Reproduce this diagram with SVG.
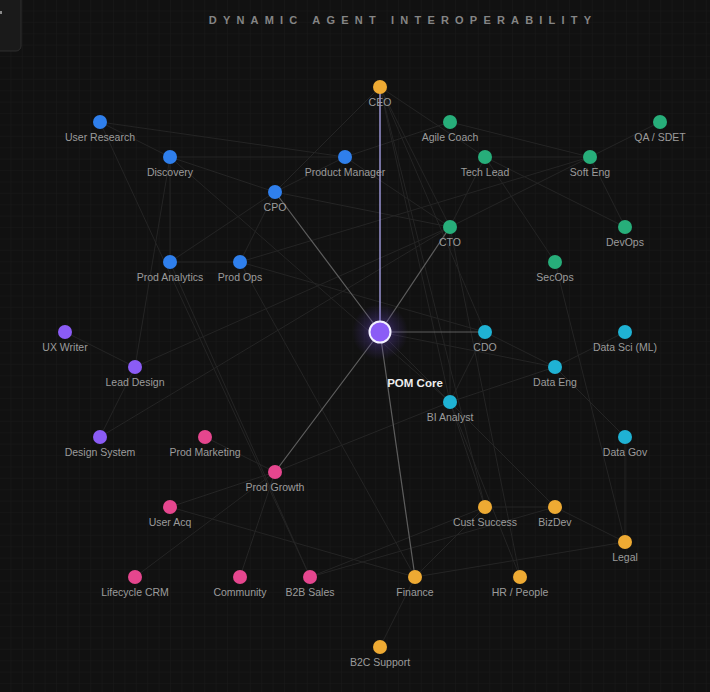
<svg xmlns="http://www.w3.org/2000/svg" width="710" height="692" viewBox="0 0 710 692">
<defs>
<pattern id="grid" width="11.4" height="11.4" patternUnits="userSpaceOnUse">
<path d="M11.4 0V11.4H0" fill="none" stroke="#1a1a1a" stroke-width="1"/>
</pattern>
<radialGradient id="glow" cx="0.5" cy="0.5" r="0.5">
<stop offset="0" stop-color="#8b5cf6" stop-opacity="0.5"/>
<stop offset="0.55" stop-color="#6d4ad6" stop-opacity="0.2"/>
<stop offset="1" stop-color="#6d4ad6" stop-opacity="0"/>
</radialGradient>
<style>
.lbl{font-family:"Liberation Sans","Inter",Arial,sans-serif;font-size:10.5px;fill:#9c9c9c;text-anchor:middle}
.faint{stroke:#242424;stroke-width:1;fill:none}
.spoke{stroke:#5e5e5e;stroke-width:1.2;fill:none}
.ceo{stroke:#aea8f0;stroke-width:1.3;fill:none}
.blue{fill:#2f7fec}
.green{fill:#27ae7a}
.purple{fill:#8b5cf6}
.cyan{fill:#1fb2d4}
.pink{fill:#e5468e}
.orange{fill:#eeaa33}
.title{font-family:"Liberation Sans","Inter",Arial,sans-serif;font-size:11px;font-weight:bold;fill:#858585;letter-spacing:6.2px;text-anchor:middle}
</style>
</defs>
<rect width="710" height="692" fill="#111111"/>
<rect width="710" height="692" fill="url(#grid)"/>
<rect x="-20" y="-20" width="41" height="71" rx="5" fill="#1a1a1a" stroke="#2e2e2e" stroke-width="1"/>
<rect x="0" y="11" width="2" height="3" fill="#8a8a8a"/>
<text class="title" x="403" y="24">DYNAMIC AGENT INTEROPERABILITY</text>

<g id="connectors">
<g id="faint-links">
<line class="faint" x1="100" y1="122" x2="345" y2="157"/>
<line class="faint" x1="100" y1="122" x2="170" y2="157"/>
<line class="faint" x1="170" y1="157" x2="345" y2="157"/>
<line class="faint" x1="170" y1="157" x2="275" y2="192"/>
<line class="faint" x1="170" y1="157" x2="170" y2="262"/>
<line class="faint" x1="170" y1="157" x2="135" y2="367"/>
<line class="faint" x1="170" y1="157" x2="450" y2="402"/>
<line class="faint" x1="275" y1="192" x2="345" y2="157"/>
<line class="faint" x1="275" y1="192" x2="240" y2="262"/>
<line class="faint" x1="275" y1="192" x2="170" y2="262"/>
<line class="faint" x1="275" y1="192" x2="450" y2="227"/>
<line class="faint" x1="170" y1="262" x2="240" y2="262"/>
<line class="faint" x1="170" y1="262" x2="310" y2="577"/>
<line class="faint" x1="240" y1="262" x2="485" y2="332"/>
<line class="faint" x1="345" y1="157" x2="450" y2="122"/>
<line class="faint" x1="345" y1="157" x2="450" y2="227"/>
<line class="faint" x1="380" y1="87" x2="275" y2="192"/>
<line class="faint" x1="380" y1="87" x2="450" y2="227"/>
<line class="faint" x1="380" y1="87" x2="485" y2="332"/>
<line class="faint" x1="380" y1="87" x2="450" y2="402"/>
<line class="faint" x1="380" y1="87" x2="485" y2="507"/>
<line class="faint" x1="380" y1="87" x2="485" y2="157"/>
<line class="faint" x1="450" y1="122" x2="590" y2="157"/>
<line class="faint" x1="485" y1="157" x2="590" y2="157"/>
<line class="faint" x1="485" y1="157" x2="450" y2="227"/>
<line class="faint" x1="485" y1="157" x2="625" y2="227"/>
<line class="faint" x1="485" y1="157" x2="555" y2="262"/>
<line class="faint" x1="590" y1="157" x2="660" y2="122"/>
<line class="faint" x1="590" y1="157" x2="450" y2="227"/>
<line class="faint" x1="590" y1="157" x2="625" y2="227"/>
<line class="faint" x1="590" y1="157" x2="240" y2="262"/>
<line class="faint" x1="555" y1="262" x2="625" y2="542"/>
<line class="faint" x1="450" y1="227" x2="450" y2="402"/>
<line class="faint" x1="450" y1="227" x2="520" y2="577"/>
<line class="faint" x1="485" y1="332" x2="555" y2="367"/>
<line class="faint" x1="485" y1="332" x2="450" y2="402"/>
<line class="faint" x1="555" y1="367" x2="625" y2="332"/>
<line class="faint" x1="555" y1="367" x2="450" y2="402"/>
<line class="faint" x1="555" y1="367" x2="625" y2="437"/>
<line class="faint" x1="380" y1="332" x2="555" y2="367"/>
<line class="faint" x1="65" y1="332" x2="135" y2="367"/>
<line class="faint" x1="135" y1="367" x2="100" y2="437"/>
<line class="faint" x1="135" y1="367" x2="450" y2="227"/>
<line class="faint" x1="100" y1="437" x2="450" y2="227"/>
<line class="faint" x1="205" y1="437" x2="275" y2="472"/>
<line class="faint" x1="100" y1="122" x2="310" y2="577"/>
<line class="faint" x1="275" y1="472" x2="170" y2="507"/>
<line class="faint" x1="275" y1="472" x2="240" y2="577"/>
<line class="faint" x1="275" y1="472" x2="135" y2="577"/>
<line class="faint" x1="275" y1="472" x2="450" y2="402"/>
<line class="faint" x1="170" y1="507" x2="415" y2="577"/>
<line class="faint" x1="310" y1="577" x2="485" y2="507"/>
<line class="faint" x1="310" y1="577" x2="555" y2="507"/>
<line class="faint" x1="415" y1="577" x2="485" y2="507"/>
<line class="faint" x1="415" y1="577" x2="625" y2="542"/>
<line class="faint" x1="415" y1="577" x2="380" y2="647"/>
<line class="faint" x1="485" y1="507" x2="555" y2="507"/>
<line class="faint" x1="450" y1="402" x2="485" y2="507"/>
<line class="faint" x1="450" y1="402" x2="520" y2="577"/>
<line class="faint" x1="625" y1="437" x2="625" y2="542"/>
<line class="faint" x1="555" y1="507" x2="625" y2="542"/>
<line class="faint" x1="380" y1="332" x2="555" y2="507"/>
<line class="faint" x1="240" y1="262" x2="415" y2="577"/>
</g>
<g id="core-links">
<line class="ceo" x1="380" y1="321" x2="380" y2="87"/>
<line class="spoke" x1="380" y1="332" x2="275" y2="192"/>
<line class="spoke" x1="380" y1="332" x2="450" y2="227"/>
<line class="spoke" x1="380" y1="332" x2="485" y2="332"/>
<line class="spoke" x1="380" y1="332" x2="275" y2="472"/>
<line class="spoke" x1="380" y1="332" x2="415" y2="577"/>
</g>
</g>

<g id="nodes">
<g id="n-ceo"><circle class="orange" cx="380" cy="87" r="7"/><text class="lbl" x="380" y="106">CEO</text></g>
<g id="n-user-research"><circle class="blue" cx="100" cy="122" r="7"/><text class="lbl" x="100" y="141">User Research</text></g>
<g id="n-agile-coach"><circle class="green" cx="450" cy="122" r="7"/><text class="lbl" x="450" y="141">Agile Coach</text></g>
<g id="n-qa"><circle class="green" cx="660" cy="122" r="7"/><text class="lbl" x="660" y="141">QA / SDET</text></g>
<g id="n-discovery"><circle class="blue" cx="170" cy="157" r="7"/><text class="lbl" x="170" y="176">Discovery</text></g>
<g id="n-pm"><circle class="blue" cx="345" cy="157" r="7"/><text class="lbl" x="345" y="176">Product Manager</text></g>
<g id="n-tech-lead"><circle class="green" cx="485" cy="157" r="7"/><text class="lbl" x="485" y="176">Tech Lead</text></g>
<g id="n-soft-eng"><circle class="green" cx="590" cy="157" r="7"/><text class="lbl" x="590" y="176">Soft Eng</text></g>
<g id="n-cpo"><circle class="blue" cx="275" cy="192" r="7"/><text class="lbl" x="275" y="211">CPO</text></g>
<g id="n-cto"><circle class="green" cx="450" cy="227" r="7"/><text class="lbl" x="450" y="246">CTO</text></g>
<g id="n-devops"><circle class="green" cx="625" cy="227" r="7"/><text class="lbl" x="625" y="246">DevOps</text></g>
<g id="n-prod-analytics"><circle class="blue" cx="170" cy="262" r="7"/><text class="lbl" x="170" y="281">Prod Analytics</text></g>
<g id="n-prod-ops"><circle class="blue" cx="240" cy="262" r="7"/><text class="lbl" x="240" y="281">Prod Ops</text></g>
<g id="n-secops"><circle class="green" cx="555" cy="262" r="7"/><text class="lbl" x="555" y="281">SecOps</text></g>
<g id="n-ux-writer"><circle class="purple" cx="65" cy="332" r="7"/><text class="lbl" x="65" y="351">UX Writer</text></g>
<g id="n-cdo"><circle class="cyan" cx="485" cy="332" r="7"/><text class="lbl" x="485" y="351">CDO</text></g>
<g id="n-data-sci"><circle class="cyan" cx="625" cy="332" r="7"/><text class="lbl" x="625" y="351">Data Sci (ML)</text></g>
<g id="n-lead-design"><circle class="purple" cx="135" cy="367" r="7"/><text class="lbl" x="135" y="386">Lead Design</text></g>
<g id="n-data-eng"><circle class="cyan" cx="555" cy="367" r="7"/><text class="lbl" x="555" y="386">Data Eng</text></g>
<g id="n-bi-analyst"><circle class="cyan" cx="450" cy="402" r="7"/><text class="lbl" x="450" y="421">BI Analyst</text></g>
<g id="n-design-system"><circle class="purple" cx="100" cy="437" r="7"/><text class="lbl" x="100" y="456">Design System</text></g>
<g id="n-prod-marketing"><circle class="pink" cx="205" cy="437" r="7"/><text class="lbl" x="205" y="456">Prod Marketing</text></g>
<g id="n-data-gov"><circle class="cyan" cx="625" cy="437" r="7"/><text class="lbl" x="625" y="456">Data Gov</text></g>
<g id="n-prod-growth"><circle class="pink" cx="275" cy="472" r="7"/><text class="lbl" x="275" y="491">Prod Growth</text></g>
<g id="n-user-acq"><circle class="pink" cx="170" cy="507" r="7"/><text class="lbl" x="170" y="526">User Acq</text></g>
<g id="n-cust-success"><circle class="orange" cx="485" cy="507" r="7"/><text class="lbl" x="485" y="526">Cust Success</text></g>
<g id="n-bizdev"><circle class="orange" cx="555" cy="507" r="7"/><text class="lbl" x="555" y="526">BizDev</text></g>
<g id="n-legal"><circle class="orange" cx="625" cy="542" r="7"/><text class="lbl" x="625" y="561">Legal</text></g>
<g id="n-lifecycle-crm"><circle class="pink" cx="135" cy="577" r="7"/><text class="lbl" x="135" y="596">Lifecycle CRM</text></g>
<g id="n-community"><circle class="pink" cx="240" cy="577" r="7"/><text class="lbl" x="240" y="596">Community</text></g>
<g id="n-b2b-sales"><circle class="pink" cx="310" cy="577" r="7"/><text class="lbl" x="310" y="596">B2B Sales</text></g>
<g id="n-finance"><circle class="orange" cx="415" cy="577" r="7"/><text class="lbl" x="415" y="596">Finance</text></g>
<g id="n-hr"><circle class="orange" cx="520" cy="577" r="7"/><text class="lbl" x="520" y="596">HR / People</text></g>
<g id="n-b2c-support"><circle class="orange" cx="380" cy="647" r="7"/><text class="lbl" x="380" y="666">B2C Support</text></g>
<g id="n-pom-core">
<circle cx="380" cy="332" r="28" fill="url(#glow)"/>
<circle cx="380" cy="332" r="10.5" fill="#8b5cf6" stroke="#f2f0ff" stroke-width="2"/>
<text x="415" y="387" font-family="Liberation Sans, Inter, Arial, sans-serif" font-size="11.5" font-weight="bold" fill="#eeeeee" text-anchor="middle">POM Core</text>
</g>
</g>
</svg>
